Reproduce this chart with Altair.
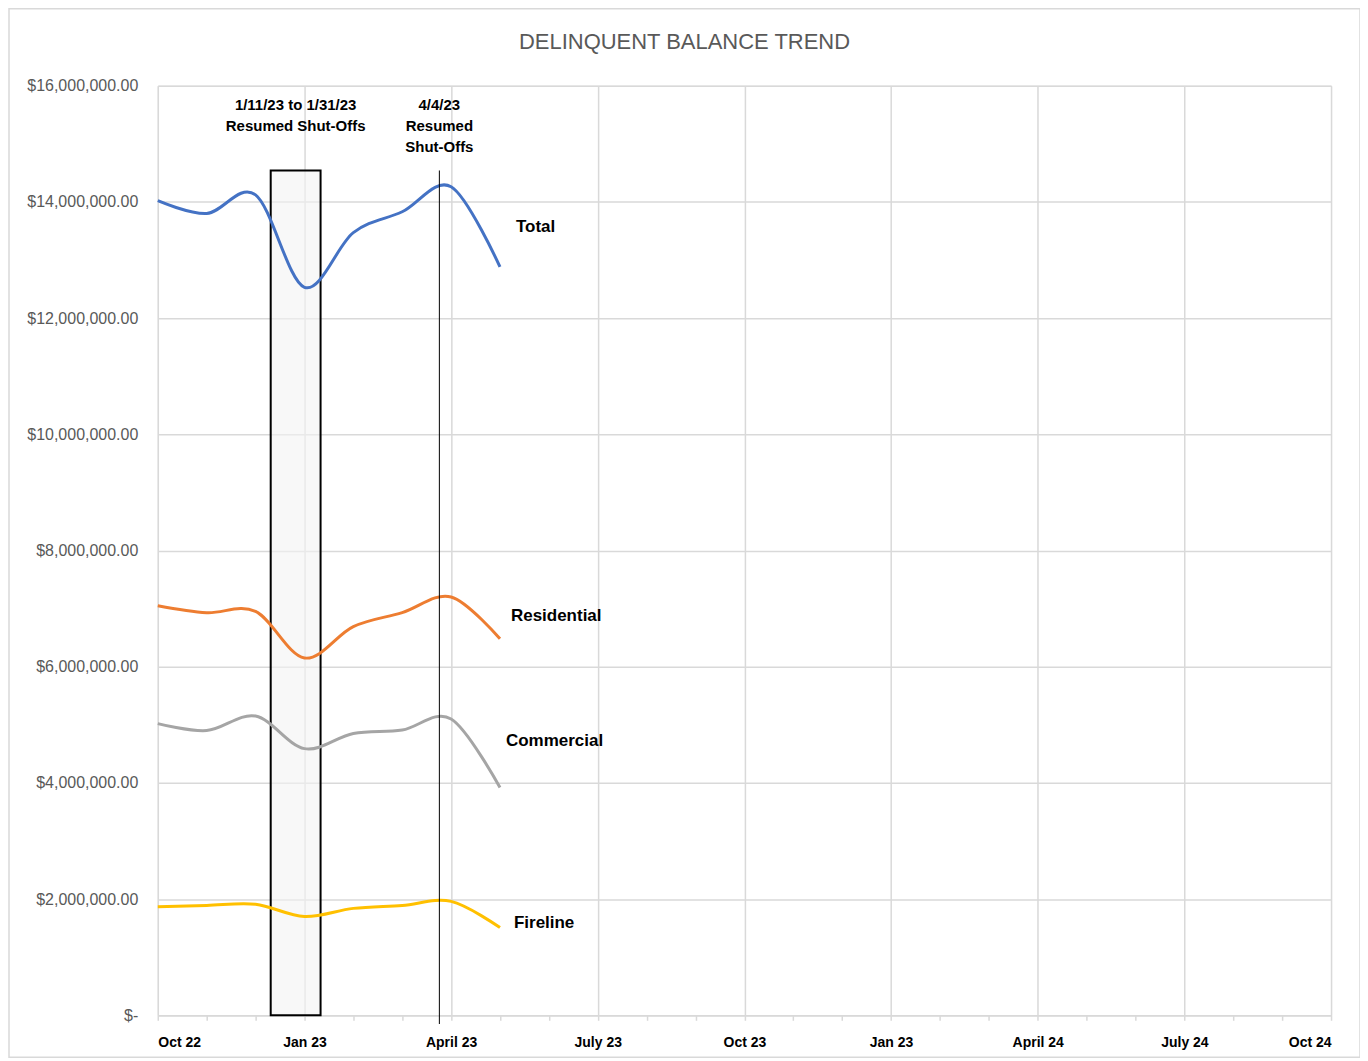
import altair as alt
import pandas as pd

# ---- data ----
months = ["Oct 22", "Nov 22", "Dec 22", "Jan 23", "Feb 23", "Mar 23", "Apr 23", "May 23"]
total = [14020000, 13800000, 14120000, 12530000, 13470000, 13830000, 14260000, 12880000]
residential = [7050000, 6930000, 6950000, 6150000, 6690000, 6930000, 7200000, 6480000]
commercial = [5020000, 4900000, 5150000, 4590000, 4850000, 4910000, 5100000, 3920000]
fireline = [1870000, 1890000, 1910000, 1700000, 1840000, 1890000, 1960000, 1510000]

series_names = ["Total", "Residential", "Commercial", "Fireline"]
series_colors = ["#4472C4", "#ED7D31", "#A5A5A5", "#FFC000"]
x_tick_labels = ["Oct 22", "Jan 23", "April 23", "July 23", "Oct 23", "Jan 23", "April 24", "July 24", "Oct 24"]

# annotation positions on the month axis (month index) and value axis
shutoff_window = [2.31, 3.33]
shutoff_day = 5.76
annot_top = 14540000
annot_text_y = 15790000
annot1_lines = ["1/11/23 to 1/31/23", "Resumed Shut-Offs"]
annot2_lines = ["4/4/23", "Resumed", "Shut-Offs"]

W, H = 1175, 931
FONT = "Liberation Sans"

rows = []
for name, vals in zip(series_names, [total, residential, commercial, fireline]):
    for i, (m, v) in enumerate(zip(months, vals)):
        rows.append({"series": name, "month": m, "idx": i, "value": v})
df = pd.DataFrame(rows)

x_scale = alt.Scale(domain=[0, 24], nice=False, zero=False)
y_scale = alt.Scale(domain=[0, 16000000], nice=False)

labels_js = "[" + ",".join("'" + s + "'" for s in x_tick_labels) + "]"

x_axis = alt.Axis(
    values=list(range(0, 25)),
    labelExpr=f"datum.value % 3 === 0 ? {labels_js}[datum.value / 3] : ''",
    gridOpacity={"condition": {"test": "datum.value % 3 === 0", "value": 1}, "value": 0},
    gridColor="#d9d9d9", gridWidth=1.5,
    domainColor="#d9d9d9", domainWidth=1.5,
    tickColor="#d9d9d9", tickSize=5, tickWidth=1.5,
    labelFont=FONT, labelFontSize=14, labelFontWeight="bold", labelColor="#000000",
    labelPadding=15, labelFlush=True, labelOverlap=False, title=None,
)
y_axis = alt.Axis(
    values=list(range(0, 16000001, 2000000)),
    labelExpr="datum.value === 0 ? '$-\u00a0\u00a0' : '$' + format(datum.value, ',.2f')",
    gridColor="#d9d9d9", gridWidth=1.5,
    domain=False, ticks=False,
    labelFont=FONT, labelFontSize=16, labelColor="#595959", labelPadding=20,
    title=None,
)

# shaded shut-off window
win_df = pd.DataFrame({"x": [shutoff_window[0]], "x2": [shutoff_window[1]], "y": [0], "y2": [annot_top]})
window = alt.Chart(win_df).mark_rect(fill="#f4f4f4", fillOpacity=0.6, stroke="#000000", strokeWidth=2).encode(
    x=alt.X("x:Q", scale=x_scale, axis=x_axis),
    x2="x2:Q",
    y=alt.Y("y:Q", scale=y_scale, axis=y_axis),
    y2="y2:Q",
)

lines = alt.Chart(df).mark_line(interpolate="cardinal", strokeWidth=3).encode(
    x=alt.X("idx:Q", scale=x_scale),
    y=alt.Y("value:Q", scale=y_scale),
    color=alt.Color("series:N", scale=alt.Scale(domain=series_names, range=series_colors), legend=None),
    detail="series:N",
)

rule_df = pd.DataFrame({"x": [shutoff_day], "y": [-150000], "y2": [annot_top]})
rule = alt.Chart(rule_df).mark_rule(color="#000000", strokeWidth=1, clip=False).encode(
    x=alt.X("x:Q", scale=x_scale), y=alt.Y("y:Q", scale=y_scale), y2="y2:Q"
)

annot_df = pd.DataFrame({
    "x": [sum(shutoff_window) / 2, shutoff_day],
    "y": [annot_text_y, annot_text_y],
    "t": [annot1_lines, annot2_lines],
})
annots = alt.Chart(annot_df).mark_text(
    font=FONT, fontSize=15, fontWeight="bold", color="#000000",
    baseline="top", align="center", lineHeight=21,
).encode(x=alt.X("x:Q", scale=x_scale), y=alt.Y("y:Q", scale=y_scale), text="t")

# series labels placed next to the last point of each line
label_offsets = {"Total": (16, -40), "Residential": (11, -23), "Commercial": (6, -47), "Fireline": (14, -5)}
label_layers = []
last = df[df["idx"] == len(months) - 1]
for name in series_names:
    dx, dy = label_offsets[name]
    label_layers.append(
        alt.Chart(last[last["series"] == name]).mark_text(
            font=FONT, fontSize=17, fontWeight="bold", color="#000000",
            align="left", baseline="middle", dx=dx, dy=dy,
        ).encode(x=alt.X("idx:Q", scale=x_scale), y=alt.Y("value:Q", scale=y_scale), text="series:N")
    )

frame = alt.Chart(pd.DataFrame({"a": [0]})).mark_rect(
    fill=None, stroke="#d9d9d9", strokeWidth=1.5, clip=False
).encode(x=alt.value(-149), x2=alt.value(W + 29), y=alt.value(-77), y2=alt.value(H + 42))

chart = alt.layer(window, lines, rule, annots, *label_layers, frame).properties(
    width=W, height=H,
    title=alt.TitleParams(
        "DELINQUENT BALANCE TREND", font=FONT, fontSize=22, fontWeight="normal",
        color="#595959", anchor="middle", frame="group", dx=-60, offset=-63, baseline="alphabetic",
    ),
    autosize=alt.AutoSizeParams(type="none"),
    padding={"left": 150, "top": 77, "right": 29, "bottom": 45},
).configure_view(stroke=None).configure(background="#ffffff")

chart.save("out.html", embed_options={"renderer": "svg", "actions": False})
